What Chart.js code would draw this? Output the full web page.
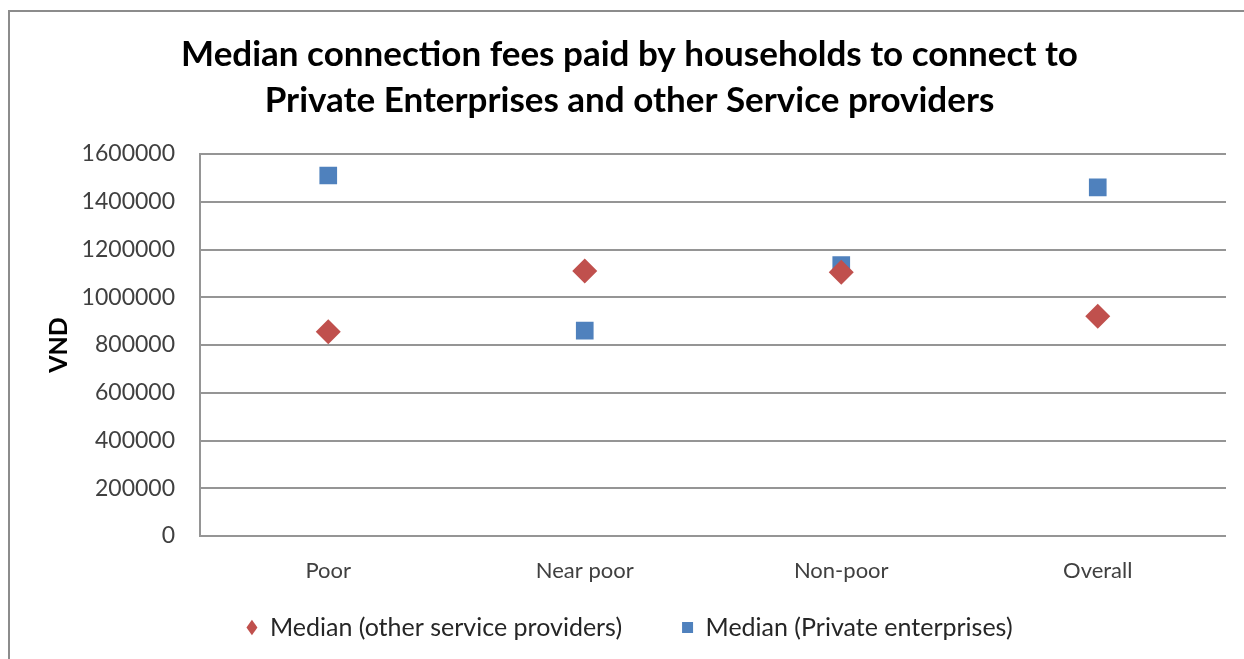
<!DOCTYPE html>
<html>
<head>
<meta charset="utf-8">
<script src="https://cdn.jsdelivr.net/npm/chart.js@4/dist/chart.umd.min.js"></script>
<style>
  html, body { margin:0; padding:0; background:#fff; overflow:hidden; }
  #frame {
    position:absolute; left:8px; top:10px; width:1300px; height:700px;
    border:2px solid #8c8c8c; box-sizing:border-box;
  }
  #chart { position:absolute; left:0; top:0; }
</style>
</head>
<body>
<div id="frame"></div>
<canvas id="chart" width="1244" height="659"></canvas>
<script>
/* ── data ─────────────────────────────────────────────── */
const CATEGORIES   = ["Poor", "Near poor", "Non-poor", "Overall"];
const OTHER_SP     = [855000, 1110000, 1105000, 920000];   // other service providers
const PRIVATE_ENT  = [1510000, 860000, 1135000, 1460000];  // private enterprises
const Y_TICKS      = [0, 200000, 400000, 600000, 800000, 1000000, 1200000, 1400000, 1600000];

const TITLE_LINES = [
  "Median connection fees paid by households to connect to",
  "Private Enterprises and other Service providers",
];

const RED  = "#C0504D";
const BLUE = "#4F81BD";
const GRID = "#959595";
const FONT = "Lato, 'Liberation Sans', sans-serif";

// x axis is kept short so the legend sits close; let its labels spill below it
const unclipXLabels = {
  id: "unclipXLabels",
  afterLayout(chart) { chart.scales.x.bottom = chart.height; },
};

new Chart(document.getElementById("chart"), {
  type: "line",
  data: {
    labels: CATEGORIES,
    datasets: [
      {
        label: "Median (other service providers)",
        data: OTHER_SP,
        showLine: false,
        pointStyle: "rectRot",
        pointRadius: 12.5,
        pointHoverRadius: 12.5,
        backgroundColor: RED,
        borderColor: RED,
        borderWidth: 0,
      },
      {
        label: "Median (Private enterprises)",
        data: PRIVATE_ENT,
        showLine: false,
        pointStyle: "rect",
        pointRadius: 12.5,
        pointHoverRadius: 12.5,
        backgroundColor: BLUE,
        borderColor: BLUE,
        borderWidth: 0,
      },
    ],
  },
  plugins: [unclipXLabels],
  options: {
    responsive: false,
    animation: false,
    layout: { padding: { left: 33, right: 18, top: 0, bottom: 9 } },
    plugins: {
      title: {
        display: true,
        text: TITLE_LINES,
        color: "#000",
        font: { family: FONT, size: 35, weight: "bold", lineHeight: 1.3 },
        padding: { top: 32, bottom: 31 },
      },
      legend: {
        position: "bottom",
        labels: {
          usePointStyle: true,
          boxHeight: 11,
          pointStyleWidth: 11,
          padding: 60,
          color: "#262626",
          font: { family: FONT, size: 25 },
        },
      },
      tooltip: { enabled: false },
    },
    scales: {
      x: {
        type: "category",
        offset: true,
        grid: { display: false, drawTicks: false },
        border: { display: false },
        ticks: { color: "#404040", padding: 22, font: { family: FONT, size: 22 } },
        afterFit: s => { s.height = 19; },
      },
      y: {
        min: 0,
        max: 1600000,
        afterBuildTicks: s => { s.ticks = Y_TICKS.map(v => ({ value: v })); },
        grid: { color: GRID, lineWidth: 2, drawTicks: false },
        border: { display: true, color: GRID, width: 2 },
        ticks: {
          color: "#404040", padding: 25,
          font: { family: FONT, size: 23 },
          callback: v => String(v),
        },
        title: {
          display: true,
          text: "VND",
          color: "#000",
          font: { family: FONT, size: 25, weight: "bold" },
          padding: { top: 11, bottom: 0 },
        },
        afterFit: s => { s.width = 167; },
      },
    },
  },
});
</script>
</body>
</html>
